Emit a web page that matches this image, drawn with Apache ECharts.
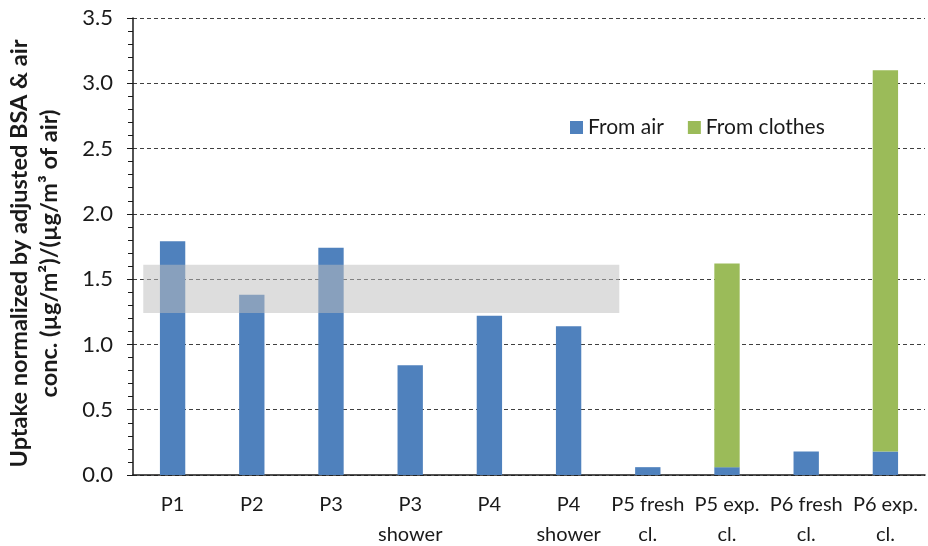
<!DOCTYPE html>
<html>
<head>
<meta charset="utf-8">
<script src="https://cdn.jsdelivr.net/npm/echarts@6/dist/echarts.min.js"></script>
<style>html,body{margin:0;padding:0;background:#fff}#c{width:928px;height:546px}</style>
</head>
<body>
<div id="c"></div>
<script>
const categories = ["P1", "P2", "P3", "P3\nshower", "P4", "P4\nshower", "P5 fresh\ncl.", "P5 exp.\ncl.", "P6 fresh\ncl.", "P6 exp.\ncl."];
const fromAir = [1.79, 1.38, 1.74, 0.84, 1.22, 1.14, 0.06, 0.06, 0.18, 0.18];
const fromClothes = [null, null, null, null, null, null, null, 1.56, null, 2.92];
const yTicks = [0, 3.5, 0.5];
// grey reference band: [x start, x end] in category units, [y low, y high]
const bandX = [0.13, 6.14];
const bandY = [1.24, 1.61];

const FONT = 'Lato';
const chart = echarts.init(document.getElementById('c'), null, {renderer: 'canvas'});
chart.setOption({
  animation: false,
  backgroundColor: '#fff',
  textStyle: {fontFamily: FONT},
  grid: {left: 133, right: 3, top: 18, bottom: 71, containLabel: false, outerBoundsMode: 'none'},
  legend: {
    data: ['From air', 'From clothes'],
    left: 565, top: 112,
    itemWidth: 13, itemHeight: 13, itemGap: 24,
    icon: 'rect',
    textStyle: {fontFamily: FONT, fontSize: 21, color: '#1a1a1a'}
  },
  xAxis: [{
    type: 'category',
    data: categories,
    axisLine: {lineStyle: {color: '#1a1a1a', width: 1.5}},
    axisTick: {show: false},
    axisLabel: {fontFamily: FONT, fontSize: 20, color: '#1a1a1a', margin: 15, lineHeight: 30, interval: 0}
  }, {
    type: 'value', min: 0, max: 10, show: false
  }],
  yAxis: {
    type: 'value',
    min: yTicks[0], max: yTicks[1], interval: yTicks[2],
    name: 'Uptake normalized by adjusted BSA & air\nconc. (µg/m²)/(µg/m³ of air)',
    nameLocation: 'middle',
    nameGap: 69,
    nameTextStyle: {fontFamily: FONT, fontSize: 23.5, fontWeight: 'bold', color: '#1a1a1a', lineHeight: 30, padding: [0, 14, 0, 0]},
    axisLine: {show: true, lineStyle: {color: '#1a1a1a', width: 1.5}},
    axisTick: {show: true, length: 6, lineStyle: {color: '#1a1a1a'}},
    minorTick: {show: true, splitNumber: 5, length: 5, lineStyle: {color: '#1a1a1a'}},
    axisLabel: {fontFamily: FONT, fontSize: 22, color: '#1a1a1a', margin: 20, formatter: v => v.toFixed(1)},
    splitLine: {show: true, lineStyle: {color: '#404040', type: [4, 3], width: 1}}
  },
  series: [{
    name: 'From air', type: 'bar', stack: 'total', data: fromAir,
    barWidth: '32%', itemStyle: {color: '#4F81BD'}
  }, {
    name: 'From clothes', type: 'bar', stack: 'total', data: fromClothes,
    barWidth: '32%', itemStyle: {color: '#9BBB59'}
  }, {
    name: 'band', type: 'custom', xAxisIndex: 1, yAxisIndex: 0, z: 10, silent: true,
    data: [[bandX[0], bandX[1], bandY[0], bandY[1]]],
    encode: {x: [0, 1], y: [2, 3]},
    renderItem: function (params, api) {
      const p0 = api.coord([api.value(0), api.value(3)]);
      const p1 = api.coord([api.value(1), api.value(2)]);
      return {type: 'rect', shape: {x: p0[0], y: p0[1], width: p1[0] - p0[0], height: p1[1] - p0[1]},
        style: {fill: 'rgba(189,189,189,0.52)'}};
    }
  }]
});
</script>
</body>
</html>
